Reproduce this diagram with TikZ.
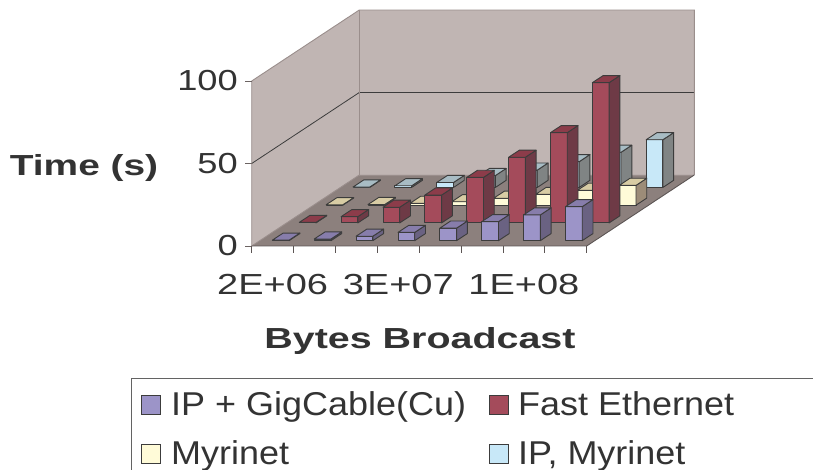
\documentclass[tikz,border=0pt]{standalone}
\usepackage{fontspec}
\setmainfont{Liberation Sans}

% face colours of the four series (front, top, side)
\definecolor{pufront}{HTML}{9C94C8}
\definecolor{putop}{HTML}{877DAB}
\definecolor{puside}{HTML}{6A6282}
\definecolor{rdfront}{HTML}{A44B5B}
\definecolor{rdtop}{HTML}{8C3C4A}
\definecolor{rdside}{HTML}{6E3A46}
\definecolor{ylfront}{HTML}{FFFBD8}
\definecolor{yltop}{HTML}{D8CCA4}
\definecolor{ylside}{HTML}{9C8C78}
\definecolor{blfront}{HTML}{C8E8F8}
\definecolor{bltop}{HTML}{A8BCC4}
\definecolor{blside}{HTML}{808484}
% walls, floor, lines, text
\definecolor{wallc}{HTML}{C0B5B3}
\definecolor{floorc}{HTML}{8C807D}
\definecolor{walledge}{HTML}{9A8E8C}
\definecolor{darkline}{HTML}{3C3C3C}
\definecolor{txtc}{HTML}{333333}

\newcommand{\sxt}[2]{\scalebox{#1}[1]{#2}}

% one 3-D column: category, series (depth slot), value, colour prefix
\newcommand{\chartbar}[4]{%
  \filldraw[barline, fill=#4front]
    (#1+0.3,0,#2+0.3) -- (#1+0.7,0,#2+0.3) -- (#1+0.7,#3,#2+0.3) -- (#1+0.3,#3,#2+0.3) -- cycle;
  \filldraw[barline, fill=#4side]
    (#1+0.7,0,#2+0.3) -- (#1+0.7,0,#2+0.7) -- (#1+0.7,#3,#2+0.7) -- (#1+0.7,#3,#2+0.3) -- cycle;
  \filldraw[barline, fill=#4top]
    (#1+0.3,#3,#2+0.3) -- (#1+0.7,#3,#2+0.3) -- (#1+0.7,#3,#2+0.7) -- (#1+0.3,#3,#2+0.7) -- cycle;
}

\tikzset{
  barline/.style={draw=darkline, line width=0.9pt, line join=round},
  axlbl/.style={font=\fontsize{29}{34}\selectfont, text=txtc, inner sep=0pt},
  titlelbl/.style={font=\fontsize{29}{34}\selectfont\bfseries, text=txtc, inner sep=0pt},
  legtxt/.style={font=\fontsize{33}{38}\selectfont, text=txtc, inner sep=0pt, anchor=base west},
  swatch/.style={draw=darkline, line width=0.8pt, minimum width=19pt, minimum height=19pt, inner sep=0pt},
}

\begin{document}
\begin{tikzpicture}[x=1pt,y=-1pt]
\useasboundingbox (0,0) rectangle (813,470);

% ---- plot area: x = category, y = value, z = series depth
\begin{scope}[x={(41.875pt,0pt)}, y={(0pt,1.65pt)}, z={(26.9pt,17.75pt)}, shift={(251.7pt,-246pt)}]
  % walls and floor
  \fill[wallc] (0,0,0) -- (0,0,4) -- (0,100,4) -- (0,100,0) -- cycle;
  \fill[wallc] (0,0,4) -- (8,0,4) -- (8,100,4) -- (0,100,4) -- cycle;
  \fill[floorc] (0,0,0) -- (8,0,0) -- (8,0,4) -- (0,0,4) -- cycle;
  % gridline at 50
  \draw[darkline, line width=0.8pt] (0,50,0) -- (0,50,4) -- (8,50,4);
  % wall edges
  \draw[walledge, line width=0.9pt] (0,0,0) -- (0,100,0) -- (0,100,4) -- (8,100,4) -- (8,0,4);
  \draw[walledge, line width=0.9pt] (0,0,4) -- (0,100,4);
  \draw[walledge, line width=0.9pt] (0,0,4) -- (8,0,4);
  \draw[walledge, line width=0.9pt] (0,0,0) -- (0,0,4);
  % value ticks
  \foreach \v in {0,50,100}
    \draw[walledge!70!black, line width=0.9pt] (0,\v,0) -- ([xshift=-7pt]0,\v,0);

  % columns, back series first
  \foreach \v [count=\c from 0] in {0.25,1,3,7.2,10.5,15.6,21.3,28.9}
    {\chartbar{\c}{3}{\v}{bl}}
  \foreach \v [count=\c from 0] in {0.25,0.4,1.1,2.1,4.2,6.5,9,12}
    {\chartbar{\c}{2}{\v}{yl}}
  \foreach \v [count=\c from 0] in {0.3,3.8,9.5,16.9,27.6,39.8,54.7,85}
    {\chartbar{\c}{1}{\v}{rd}}
  \foreach \v [count=\c from 0] in {0.3,1,2.7,5,7.6,11.5,15.6,20.6}
    {\chartbar{\c}{0}{\v}{pu}}

  % floor front and right edges, category ticks
  \draw[walledge!60!black, line width=0.9pt] (0,0,0) -- (8,0,0) -- (8,0,4);
  \foreach \c in {0,...,8}
    \draw[walledge!60!black, line width=0.9pt] (\c,0,0) -- ([yshift=-7pt]\c,0,0);
\end{scope}

% ---- axis labels
\node[axlbl, anchor=east] (v100) at (238,81) {\sxt{1.25}{100}};
\node[axlbl, anchor=east] (v50) at (238,163.5) {\sxt{1.25}{50}};
\node[axlbl, anchor=east] (v0) at (238,246) {\sxt{1.25}{0}};
\node[titlelbl, anchor=base] (ytitle) at (84,176) {\sxt{1.34}{Time (s)}};

\node[axlbl, anchor=base] (c1) at (272.6,294) {\sxt{1.31}{2E+06}};
\node[axlbl, anchor=base] (c2) at (398.3,294) {\sxt{1.31}{3E+07}};
\node[axlbl, anchor=base] (c3) at (523.9,294) {\sxt{1.31}{1E+08}};
\node[titlelbl, anchor=base] (xtitle) at (420,348) {\sxt{1.36}{Bytes Broadcast}};

% ---- legend
\draw[darkline!80, line width=0.9pt] (131,471) -- (131,378.5) -- (814,378.5);
\node[swatch, fill=pufront] (sw1) at (151,405) {};
\node[legtxt] (lt1) at (171,415) {\sxt{1.09}{IP + GigCable(Cu)}};
\node[swatch, fill=rdfront] (sw2) at (499,405) {};
\node[legtxt] (lt2) at (518,415) {\sxt{1.09}{Fast Ethernet}};
\node[swatch, fill=ylfront] (sw3) at (151,453.7) {};
\node[legtxt] (lt3) at (171,464.3) {\sxt{1.09}{Myrinet}};
\node[swatch, fill=blfront] (sw4) at (499,453.7) {};
\node[legtxt] (lt4) at (518,464.3) {\sxt{1.09}{IP, Myrinet}};
\end{tikzpicture}
\end{document}
